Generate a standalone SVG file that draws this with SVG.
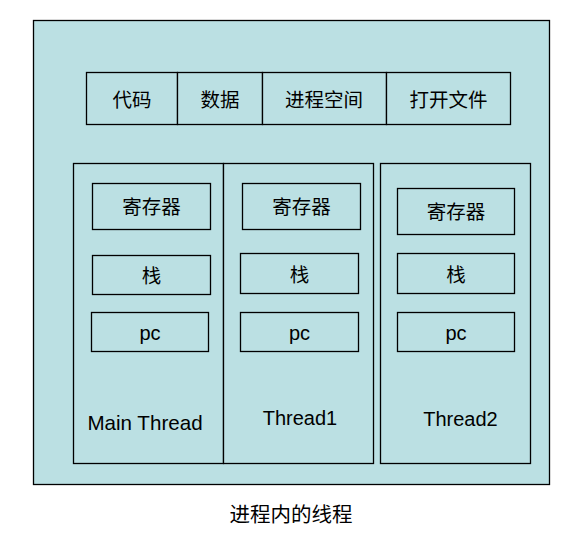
<svg xmlns="http://www.w3.org/2000/svg" width="575" height="537" viewBox="0 0 575 537">
<style>
rect{fill:#BBE0E3;stroke:#000;stroke-width:1.3}
text{font-family:"Liberation Sans","Noto Sans CJK SC",sans-serif;font-size:20px;fill:#000;text-anchor:middle}
.cn{font-family:"Noto Sans CJK SC","Liberation Sans",sans-serif;font-size:19.5px}
</style>
<rect x="33.5" y="20.5" width="516" height="464"/>
<g id="process-resources">
<rect x="86.5" y="72.5" width="91" height="52"/>
<text class="cn" x="132" y="107">代码</text>
<rect x="177.5" y="72.5" width="85" height="52"/>
<text class="cn" x="220" y="107">数据</text>
<rect x="262.5" y="72.5" width="124" height="52"/>
<text class="cn" x="324" y="107">进程空间</text>
<rect x="386.5" y="72.5" width="124" height="52"/>
<text class="cn" x="448.5" y="107">打开文件</text>
</g>
<g id="main-thread">
<rect x="73.5" y="163.5" width="150" height="300"/>
<rect x="92.5" y="183.5" width="118" height="46"/>
<text class="cn" x="151.5" y="214">寄存器</text>
<rect x="92.5" y="255.5" width="118" height="39"/>
<text class="cn" x="151.5" y="283">栈</text>
<rect x="91.5" y="312.5" width="117" height="39"/>
<text x="150" y="340">pc</text>
<text x="145" y="430" style="font-size:20.6px">Main Thread</text>
</g>
<g id="thread1">
<rect x="223.5" y="163.5" width="150" height="300"/>
<rect x="242.5" y="183.5" width="118" height="46"/>
<text class="cn" x="301.5" y="214">寄存器</text>
<rect x="240.5" y="253.5" width="118" height="40"/>
<text class="cn" x="299.5" y="282">栈</text>
<rect x="240.5" y="312.5" width="118" height="39"/>
<text x="299.5" y="340">pc</text>
<text x="300" y="425">Thread1</text>
</g>
<g id="thread2">
<rect x="380.5" y="163.5" width="150" height="300"/>
<rect x="397.5" y="188.5" width="117" height="46"/>
<text class="cn" x="456" y="219">寄存器</text>
<rect x="397.5" y="253.5" width="117" height="40"/>
<text class="cn" x="456" y="282">栈</text>
<rect x="397.5" y="312.5" width="117" height="39"/>
<text x="456" y="340">pc</text>
<text x="460.5" y="425.5">Thread2</text>
</g>
<g id="connectors"/>
<text class="cn" x="291" y="522" style="font-size:20.5px">进程内的线程</text>
</svg>
